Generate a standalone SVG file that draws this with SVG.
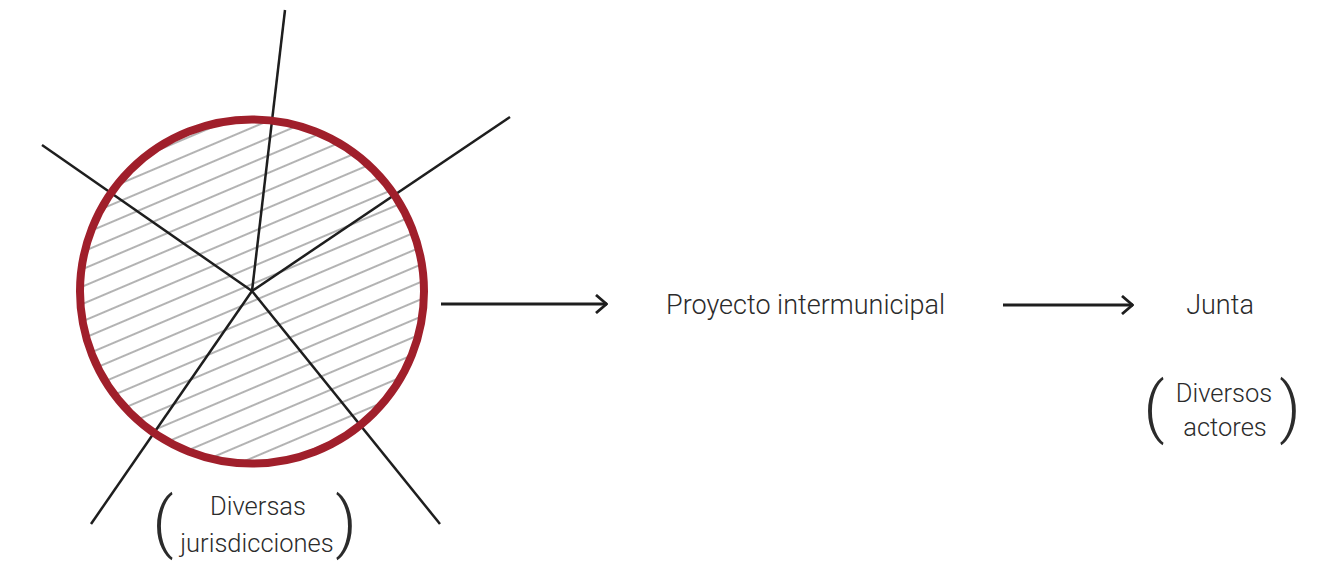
<svg xmlns="http://www.w3.org/2000/svg" width="1318" height="562" viewBox="0 0 1318 562">
  <style>
    .lbl { font-family: Roboto, "Liberation Sans", sans-serif; font-weight: 300; font-size: 27px; fill: #2b2b2b; }
    .sub { font-family: Roboto, "Liberation Sans", sans-serif; font-weight: 300; font-size: 25.5px; fill: #2b2b2b; }
    .par { font-family: Roboto, "Liberation Sans", sans-serif; font-weight: 300; font-size: 66px; fill: #2b2b2b; }
    .ray { stroke: #1e1e1e; stroke-width: 2.5; fill: none; }
    .conn { stroke: #1e1e1e; stroke-width: 2.8; fill: none; }
  </style>
  <defs>
    <pattern id="hatch" patternUnits="userSpaceOnUse" width="40" height="16" patternTransform="rotate(-23)">
      <line x1="0" y1="8" x2="40" y2="8" stroke="#9a9a9a" stroke-width="1.3"/>
    </pattern>
    <marker id="chev" viewBox="0 0 14 20" refX="13" refY="10" markerWidth="14" markerHeight="20" markerUnits="userSpaceOnUse" orient="auto">
      <path d="M2,1 L12.5,10 L2,19" fill="none" stroke="#1e1e1e" stroke-width="2.8"/>
    </marker>
  </defs>

  <!-- hatched territory with jurisdiction boundaries -->
  <g id="territorio">
    <circle cx="252" cy="291.5" r="172" fill="url(#hatch)"/>
    <line class="ray" x1="252" y1="291" x2="285" y2="10"/>
    <line class="ray" x1="252" y1="291" x2="510" y2="117"/>
    <line class="ray" x1="252" y1="291" x2="42" y2="145"/>
    <line class="ray" x1="252" y1="291" x2="91" y2="524"/>
    <line class="ray" x1="252" y1="291" x2="440" y2="524"/>
    <circle cx="252" cy="291.5" r="172" fill="none" stroke="#a01f2b" stroke-width="8"/>
  </g>

  <g id="jurisdicciones">
    <text class="par" x="163" y="545" text-anchor="middle">(</text>
    <text class="sub" x="258" y="515" text-anchor="middle">Diversas</text>
    <text class="sub" x="257" y="552" text-anchor="middle">jurisdicciones</text>
    <text class="par" x="346" y="545" text-anchor="middle">)</text>
  </g>

  <g id="proyecto">
    <text class="lbl" x="805.5" y="314" text-anchor="middle">Proyecto intermunicipal</text>
  </g>

  <g id="junta">
    <text class="lbl" x="1220" y="314" text-anchor="middle">Junta</text>
  </g>

  <g id="actores">
    <text class="par" x="1154" y="430" text-anchor="middle">(</text>
    <text class="sub" x="1224" y="402" text-anchor="middle">Diversos</text>
    <text class="sub" x="1225" y="436" text-anchor="middle">actores</text>
    <text class="par" x="1290" y="430" text-anchor="middle">)</text>
  </g>

  <g id="conectores">
    <line class="conn" x1="441" y1="304" x2="607" y2="304" marker-end="url(#chev)"/>
    <line class="conn" x1="1003" y1="305" x2="1133" y2="305" marker-end="url(#chev)"/>
  </g>
</svg>
